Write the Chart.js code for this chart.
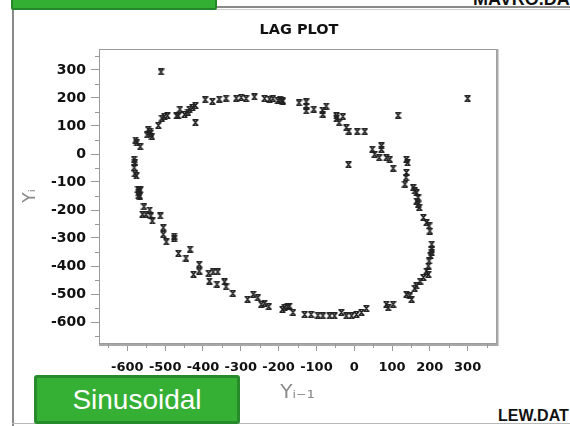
<!DOCTYPE html>
<html>
<head>
<meta charset="utf-8">
<script src="https://cdn.jsdelivr.net/npm/chart.js@4/dist/chart.umd.min.js"></script>
<style>
  html, body { margin:0; padding:0; background:#fff; }
  body { width:570px; height:426px; position:relative; overflow:hidden; font-family:"Liberation Sans", Arial, sans-serif; }
  #wrap { position:absolute; left:0; top:0; width:570px; height:426px; }
  .line { position:absolute; }
  .topbox { position:absolute; left:11px; top:-4px; width:202px; height:10px; background:#33b033; border:2px solid #26862a; border-radius:2px; }
  .sinbox { position:absolute; left:34px; top:375px; width:200px; height:43px; background:#35b035; border:3px solid #278a2b; border-radius:3px;
            color:#fff; font-family:"Liberation Sans", Arial, sans-serif; font-size:28px; line-height:43px; text-align:center; }
  .title { position:absolute; left:199px; width:200px; top:21px; text-align:center; font-family:"DejaVu Sans", sans-serif; font-weight:bold; font-size:14.5px; color:#111; }
  .tr { position:absolute; left:473px; top:-10px; line-height:18px; font-family:"Liberation Sans", Arial, sans-serif; font-weight:bold; font-size:18px; color:#111; white-space:nowrap; }
  .br { position:absolute; left:498px; top:408px; line-height:16px; font-family:"Liberation Sans", Arial, sans-serif; font-weight:bold; font-size:16px; color:#111; white-space:nowrap; }
</style>
</head>
<body>
<div class="line" style="left:12px; top:6px; width:558px; height:2px; background:#8a8a8a;"></div>
<div class="line" style="left:12px; top:9px; width:558px; height:1px; background:#d0d0d0;"></div>
<div class="line" style="left:12px; top:8px; width:1.5px; height:418px; background:#8a8a8a;"></div>
<div class="line" style="left:12px; top:423px; width:558px; height:1px; background:#b8b8b8;"></div>
<div class="tr">MAVRO.DAT</div>
<div class="br">LEW.DAT</div>
<div id="wrap"><canvas id="c" width="570" height="426"></canvas></div>
<div class="title">LAG PLOT</div>
<div class="topbox"></div>
<div class="sinbox">Sinusoidal</div>
<script>
// Lag plot data: Y(i-1) on x, Y(i) on y
const lagX = [
  -511, -578, -575, -566, -582, -580, -582, -580, -576, -572, -566, -570, -570,
  -545, -540, -548, -535, -538, -518, -509, -502, -494, -470, -465, -461, -449,
  -440, -436, -428, -420, -420, -394, -375, -357, -339, -312, -299, -286, -264,
  -237, -224, -215, -202, -190, -196,
  -189, -146, -127, -127, -127, -107, -84, -83, -74, -47, -47, -30, -40, -21, -14,
  8, 28, 116, 300, -15, 48, 54, 72, 72, 66, 85, 94, 103, 138, 141, 138, 137, 134,
  156, 165, 169,
  160, 165, 169, 172, 183, 191, 198, 200, 205, 205, 205, 202, 198, 196, 191, 196,
  183, 174, 165, 160, 138, 147, 152, 85, 90, 103, 32, 19, 6, -7, -21, -34, -52,
  -65, -83, -96, -114, -131, -171, -162, -184,
  -569, -567, -556, -560, -551, -541, -538, -534, -513, -505, -505, -497, -476,
  -476, -465, -445, -434, -425, -410, -410, -385, -383, -373, -361, -363, -343,
  -339, -321, -282, -267, -255, -246, -237, -226, -190, -176
];
const lagY = [
  293, 50, 40, 26, -19, -30, -49, -70, -78, -126, -128, -137, -147,
  88, 80, 68, 63, 75, 102, 128, 134, 137, 136, 136, 160, 141,
  150, 160, 166, 173, 112, 194, 188, 196, 199, 199, 202, 198, 204,
  198, 196, 198, 191, 191, 196,
  189, 183, 186, 171, 154, 160, 157, 142, 171, 136, 126, 134, 112, 94, 82,
  80, 80, 138, 198, -38, 17, -1, 29, 17, -13, -13, -19, -51, -19, -31, -66, -84, -108,
  -120, -138, -156,
  -132, -168, -180, -191, -227, -245, -257, -275, -322, -340, -352, -364, -382, -400, -418, -430,
  -441, -454, -471, -480, -501, -507, -519, -537, -549, -537, -552, -566, -573, -578, -578, -566, -578,
  -578, -578, -576, -573, -573, -543, -566, -549,
  -132, -150, -188, -215, -215, -200, -221, -239, -221, -263, -287, -314, -293,
  -302, -355, -372, -340, -430, -394, -418, -426, -454, -421, -421, -465, -457,
  -474, -498, -519, -501, -513, -537, -533, -545, -555, -545
];
const majorTicks = [-600, -500, -400, -300, -200, -100, 0, 100, 200, 300];
const minorTicks = [-650, -550, -450, -350, -250, -150, -50, 50, 150, 250, 350];
const axisMin = -675, axisMax = 375;

// hourglass "x" marker
function makeMarker() {
  const m = document.createElement('canvas');
  m.width = 7; m.height = 7;
  const g = m.getContext('2d');
  g.strokeStyle = '#222';
  g.lineWidth = 1.4;
  g.beginPath();
  g.moveTo(0.5, 0.8); g.lineTo(6.5, 0.8);
  g.moveTo(0.5, 6.2); g.lineTo(6.5, 6.2);
  g.moveTo(1.2, 0.8); g.lineTo(5.8, 6.2);
  g.moveTo(5.8, 0.8); g.lineTo(1.2, 6.2);
  g.stroke();
  return m;
}
const marker = makeMarker();

const points = lagX.map((x, i) => ({ x: x, y: lagY[i] }));

const framePlugin = {
  id: 'frame',
  afterDraw(chart) {
    const { ctx, chartArea: a, scales } = chart;
    ctx.save();
    ctx.strokeStyle = '#9a9a9a';
    ctx.lineWidth = 1;
    ctx.strokeRect(a.left + 0.5, a.top + 0.5, a.right - a.left, a.bottom - a.top);
    ctx.strokeStyle = '#a8a8a8';
    ctx.lineWidth = 2;
    ctx.beginPath();
    ctx.moveTo(a.right + 1.5, a.top); ctx.lineTo(a.right + 1.5, a.bottom + 2);
    ctx.lineTo(a.left, a.bottom + 2);
    ctx.stroke();
    // minor ticks
    ctx.strokeStyle = '#999';
    ctx.lineWidth = 1;
    ctx.beginPath();
    minorTicks.forEach(v => {
      const px = Math.round(scales.x.getPixelForValue(v)) + 0.5;
      ctx.moveTo(px, a.bottom); ctx.lineTo(px, a.bottom + 5);
      const py = Math.round(scales.y.getPixelForValue(v)) + 0.5;
      ctx.moveTo(a.left, py); ctx.lineTo(a.left - 4, py);
    });
    ctx.stroke();
    ctx.restore();
  }
};

new Chart(document.getElementById('c'), {
  type: 'scatter',
  data: {
    datasets: [{
      data: points,
      pointStyle: marker,
      pointRadius: 3.5,
      pointHoverRadius: 3.5
    }]
  },
  options: {
    responsive: false,
    animation: false,
    devicePixelRatio: 1,
    layout: { padding: { left: 12, top: 49, right: 74, bottom: 0 } },
    plugins: { legend: { display: false }, tooltip: { enabled: false } },
    scales: {
      x: {
        type: 'linear',
        min: axisMin, max: axisMax,
        afterBuildTicks: s => { s.ticks = majorTicks.map(v => ({ value: v })); },
        afterFit: s => { s.height = 83; },
        grid: { drawOnChartArea: false, drawTicks: true, tickLength: 8, color: '#999', tickColor: '#999' },
        border: { display: false },
        ticks: {
          autoSkip: false, maxRotation: 0, minRotation: 0, padding: 9,
          color: '#111',
          font: { family: 'DejaVu Sans', weight: 'bold', size: 13 }
        },
        title: {
          display: true, text: 'Yᵢ₋₁', color: '#8a8a8a',
          font: { family: 'DejaVu Sans', size: 20, weight: 'normal' },
          padding: { top: 0, bottom: 21 }
        }
      },
      y: {
        type: 'linear',
        min: axisMin, max: axisMax,
        afterBuildTicks: s => { s.ticks = majorTicks.map(v => ({ value: v })); },
        afterFit: s => { s.width = 87; },
        grid: { drawOnChartArea: false, drawTicks: true, tickLength: 8, color: '#999', tickColor: '#999' },
        border: { display: false },
        ticks: {
          autoSkip: false, padding: 5,
          color: '#111',
          font: { family: 'DejaVu Sans', weight: 'bold', size: 14 }
        },
        title: {
          display: true, text: 'Yᵢ', color: '#8a8a8a',
          font: { family: 'DejaVu Sans', size: 17, weight: 'normal' },
          padding: { top: 8, bottom: 0 }
        }
      }
    }
  },
  plugins: [framePlugin]
});
</script>
</body>
</html>
